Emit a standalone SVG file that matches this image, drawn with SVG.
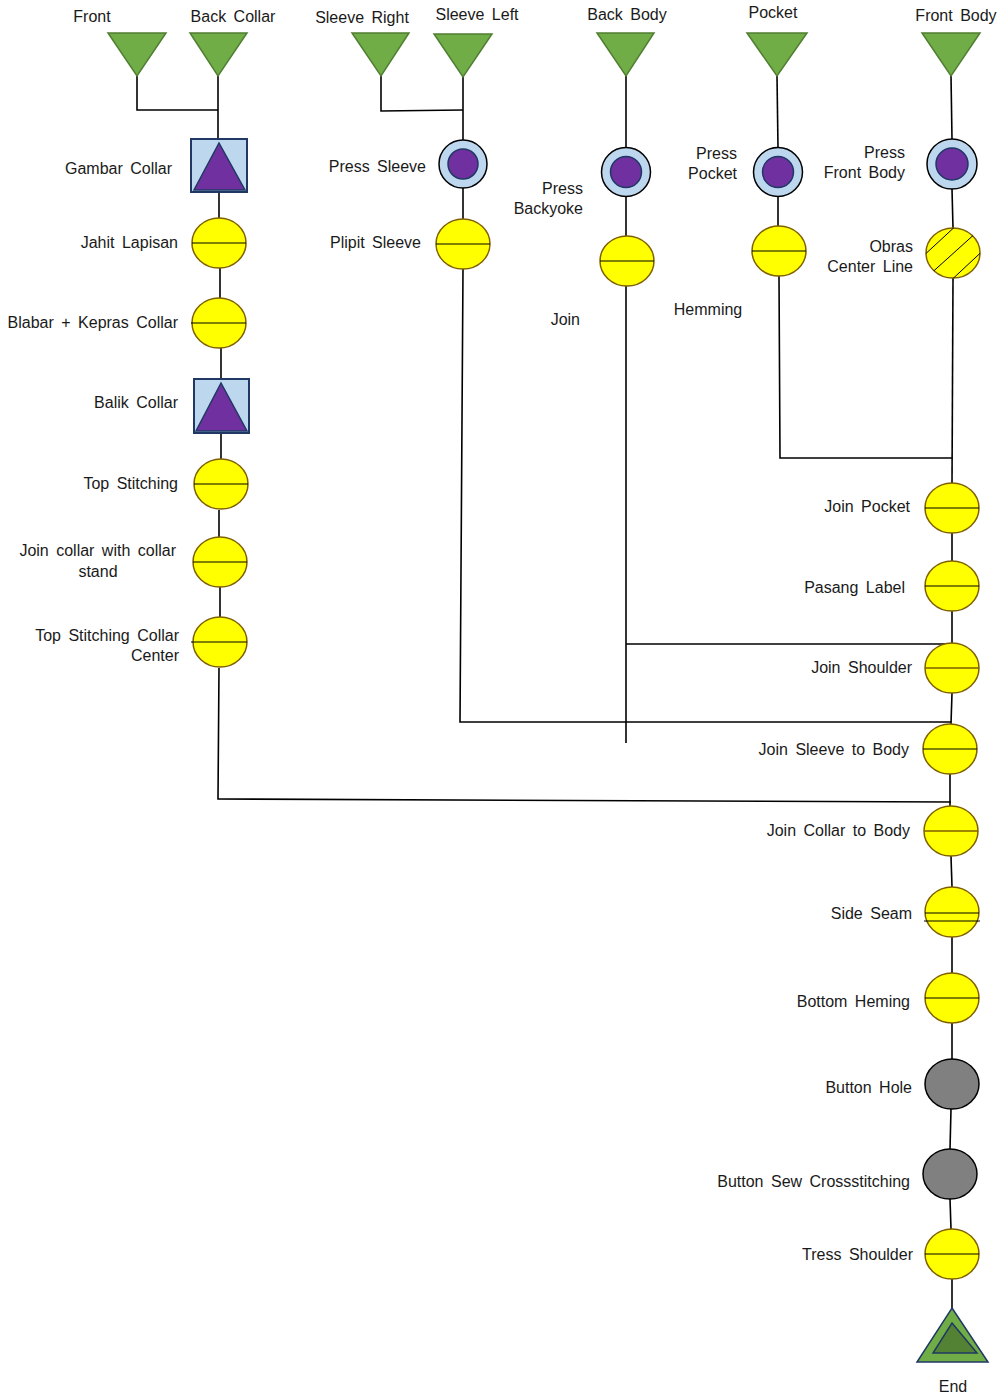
<svg xmlns="http://www.w3.org/2000/svg" width="1001" height="1400" viewBox="0 0 1001 1400">
<style>
text{font-family:"Liberation Sans",Arial,sans-serif;font-size:16px;fill:#1a1a1a;word-spacing:3px}
.e{text-anchor:end}.m{text-anchor:middle}
.src{fill:#70AD47;stroke:#507E32;stroke-width:1.5}
.box{fill:#BDD7EE;stroke:#1F3864;stroke-width:2}
.ptri{fill:#7030A0;stroke:#1F3864;stroke-width:1.5}
.ring{fill:#BDD7EE;stroke:#000;stroke-width:1.5}
.dot{fill:#7030A0;stroke:#1F3864;stroke-width:1.5}
.op{fill:#FFFF00;stroke:#7F6000;stroke-width:1.5}
.gr{fill:#808080;stroke:#000;stroke-width:1.5}
.hl{stroke:#000;stroke-width:1.2}
.ht{stroke:#000;stroke-width:1}
#conn path{fill:none;stroke:#000;stroke-width:1.6}
</style>
<defs>
<clipPath id="obc"><ellipse cx="953" cy="253" rx="27" ry="25"/></clipPath>
</defs>
<g id="conn">
<path d="M137,76 V110 H218"/>
<path d="M218,76 V139"/>
<path d="M219,192 V218"/>
<path d="M220,268 V298"/>
<path d="M221,348 V378"/>
<path d="M221,433 V459"/>
<path d="M219,510 V537"/>
<path d="M220,587 V617"/>
<path d="M219,668 L218,799 L951,802"/>
<path d="M381,76 V111 L463,110"/>
<path d="M463,77 V140"/>
<path d="M463,188 V219"/>
<path d="M463,269 L460,722 H951"/>
<path d="M626,76 V148"/>
<path d="M626,196 V236"/>
<path d="M626,286 V743"/>
<path d="M626,644 H951"/>
<path d="M777,76 L778,148"/>
<path d="M778,196 V226"/>
<path d="M779,276 L780,458 H952"/>
<path d="M951,76 L952,139"/>
<path d="M952,189 L953,228"/>
<path d="M953,278 L952,483"/>
<path d="M952,533 V561"/>
<path d="M952,611 V644"/>
<path d="M952,693 L951,724"/>
<path d="M950,774 V806"/>
<path d="M951,856 L952,887"/>
<path d="M952,937 V973"/>
<path d="M952,1023 V1059"/>
<path d="M951,1109 L950,1149"/>
<path d="M950,1199 L951,1229"/>
<path d="M952,1279 V1308"/>
</g>
<g id="n-front"><polygon class="src" points="108,33 166,33 137,76"/><text class="m" x="92" y="22">Front</text></g>
<g id="n-backcollar"><polygon class="src" points="190,33 247,33 218,76"/><text class="m" x="233" y="22">Back Collar</text></g>
<g id="n-sleeveright"><polygon class="src" points="352,33 409,33 381,76"/><text class="m" x="362" y="23">Sleeve Right</text></g>
<g id="n-sleeveleft"><polygon class="src" points="434,34 492,34 463,77"/><text class="m" x="477" y="20">Sleeve Left</text></g>
<g id="n-backbody"><polygon class="src" points="597,33 654,33 626,76"/><text class="m" x="627" y="20">Back Body</text></g>
<g id="n-pocket"><polygon class="src" points="747,33 807,33 777,76"/><text class="m" x="773" y="18">Pocket</text></g>
<g id="n-frontbody"><polygon class="src" points="922,33 980,33 951,76"/><text class="m" x="956" y="21">Front Body</text></g>

<g id="n-gambar"><rect class="box" x="191" y="139" width="56" height="53"/><polygon class="ptri" points="219,143 194,190 245,190"/><text class="e" x="172" y="174">Gambar Collar</text></g>
<g id="n-jahit"><ellipse class="op" cx="219" cy="243" rx="27" ry="25"/><line class="hl" x1="192" y1="243" x2="246" y2="243"/><text class="e" x="178" y="248">Jahit Lapisan</text></g>
<g id="n-blabar"><ellipse class="op" cx="219" cy="323" rx="27" ry="25"/><line class="hl" x1="191" y1="323" x2="246" y2="323"/><text class="e" x="178" y="328">Blabar + Kepras Collar</text></g>
<g id="n-balik"><rect class="box" x="194" y="379" width="55" height="54"/><polygon class="ptri" points="221,383 196,431 247,431"/><text class="e" x="178" y="408">Balik Collar</text></g>
<g id="n-topst"><ellipse class="op" cx="221" cy="484" rx="27" ry="25"/><line class="hl" x1="194" y1="484" x2="248" y2="484"/><text class="e" x="178" y="489">Top Stitching</text></g>
<g id="n-joincollar"><ellipse class="op" cx="220" cy="562" rx="27" ry="25"/><line class="hl" x1="193" y1="562" x2="247" y2="562"/><text class="e" x="176" y="556">Join collar with collar</text><text class="m" x="98" y="577">stand</text></g>
<g id="n-topstcc"><ellipse class="op" cx="220" cy="642" rx="27" ry="25"/><line class="hl" x1="191" y1="642" x2="247" y2="642"/><text class="e" x="179" y="641">Top Stitching Collar</text><text class="e" x="179" y="661">Center</text></g>

<g id="n-presssleeve"><circle class="ring" cx="463" cy="164" r="24"/><circle class="dot" cx="463" cy="164" r="15"/><text class="e" x="426" y="172">Press Sleeve</text></g>
<g id="n-plipit"><ellipse class="op" cx="463" cy="244" rx="27" ry="25"/><line class="hl" x1="436" y1="244" x2="490" y2="244"/><text class="e" x="421" y="248">Plipit Sleeve</text></g>

<g id="n-pressback"><circle class="ring" cx="626" cy="172" r="24.5"/><circle class="dot" cx="626" cy="172" r="15.5"/><text class="e" x="583" y="194">Press</text><text class="e" x="583" y="214">Backyoke</text></g>
<g id="n-join"><ellipse class="op" cx="627" cy="261" rx="27" ry="25"/><line class="hl" x1="600" y1="261" x2="654" y2="261"/><text class="e" x="580" y="325">Join</text></g>

<g id="n-presspocket"><circle class="ring" cx="778" cy="172" r="24.5"/><circle class="dot" cx="778" cy="172" r="15.5"/><text class="e" x="737" y="159">Press</text><text class="e" x="737" y="179">Pocket</text></g>
<g id="n-hemming"><ellipse class="op" cx="779" cy="251" rx="27" ry="25"/><line class="hl" x1="752" y1="251" x2="806" y2="251"/><text class="m" x="708" y="315">Hemming</text></g>

<g id="n-pressfront"><circle class="ring" cx="952" cy="164" r="25"/><circle class="dot" cx="952" cy="164" r="16"/><text class="e" x="905" y="158">Press</text><text class="e" x="905" y="178">Front Body</text></g>
<g id="n-obras"><ellipse class="op" cx="953" cy="253" rx="27" ry="25"/><g clip-path="url(#obc)" class="ht"><line x1="920" y1="259" x2="960" y2="222"/><line x1="927" y1="277" x2="978" y2="231"/><line x1="945" y1="286" x2="990" y2="244"/></g><text class="e" x="913" y="252">Obras</text><text class="e" x="913" y="272">Center Line</text></g>

<g id="n-joinpocket"><ellipse class="op" cx="952" cy="508" rx="27" ry="25"/><line class="hl" x1="925" y1="508" x2="979" y2="508"/><text class="e" x="910" y="512">Join Pocket</text></g>
<g id="n-pasang"><ellipse class="op" cx="952" cy="586" rx="27" ry="25"/><line class="hl" x1="925" y1="586" x2="979" y2="586"/><text class="e" x="905" y="593">Pasang Label</text></g>
<g id="n-joinshoulder"><ellipse class="op" cx="952" cy="668" rx="27" ry="25"/><line x1="925" y1="668" x2="979" y2="668" stroke="#7F6000" stroke-width="1.5"/><text class="e" x="912" y="673">Join Shoulder</text></g>
<g id="n-joinsleeve"><ellipse class="op" cx="950" cy="749" rx="27" ry="25"/><line class="hl" x1="923" y1="749" x2="977" y2="749"/><text class="e" x="909" y="755">Join Sleeve to Body</text></g>
<g id="n-joincollarbody"><ellipse class="op" cx="951" cy="831" rx="27" ry="25"/><line x1="924" y1="831" x2="978" y2="831" stroke="#7F6000" stroke-width="1.5"/><text class="e" x="910" y="836">Join Collar to Body</text></g>
<g id="n-sideseam"><ellipse class="op" cx="952" cy="912" rx="27" ry="25"/><line class="hl" x1="925" y1="913" x2="979" y2="913"/><line class="hl" x1="924" y1="921" x2="980" y2="921"/><text class="e" x="912" y="919">Side Seam</text></g>
<g id="n-bottom"><ellipse class="op" cx="952" cy="998" rx="27" ry="25"/><line class="hl" x1="925" y1="998" x2="979" y2="998"/><text class="e" x="910" y="1007">Bottom Heming</text></g>
<g id="n-buttonhole"><ellipse class="gr" cx="952" cy="1084" rx="27" ry="25"/><text class="e" x="912" y="1093">Button Hole</text></g>
<g id="n-buttonsew"><ellipse class="gr" cx="950" cy="1174" rx="27" ry="25"/><text class="e" x="910" y="1187">Button Sew Crossstitching</text></g>
<g id="n-tress"><ellipse class="op" cx="952" cy="1254" rx="27" ry="25"/><line class="hl" x1="925" y1="1254" x2="979" y2="1254"/><text class="e" x="913" y="1260">Tress Shoulder</text></g>
<g id="n-end"><polygon points="952,1308 988,1362 917,1362" fill="#70AD47" stroke="#1F3864" stroke-width="1.5"/><polygon points="952,1323 977,1353 933,1353" fill="#548235" stroke="#1F3864" stroke-width="1.5"/><text class="m" x="953" y="1392">End</text></g>
</svg>
